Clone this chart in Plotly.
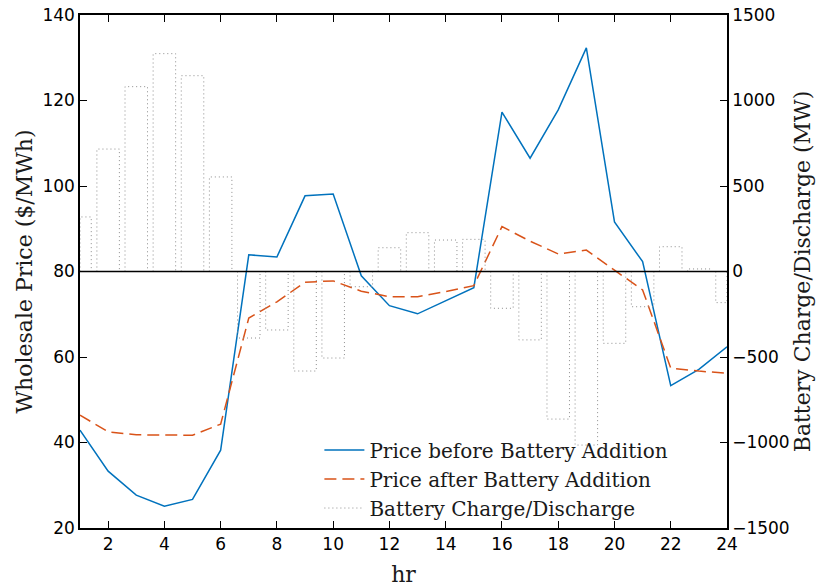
import plotly.graph_objects as go

hours = list(range(1, 25))
price_before = [42.9, 33.3, 27.7, 25.1, 26.7, 38.2, 83.9, 83.4, 97.7, 98.1, 79.0, 72.0,
                70.1, 73.2, 76.2, 117.3, 106.5, 117.8, 132.3, 91.6, 82.3, 53.3, 57.1, 62.4]
price_after = [46.4, 42.5, 41.8, 41.7, 41.7, 44.3, 69.1, 72.9, 77.5, 77.8, 75.4, 74.1,
               74.1, 75.3, 76.7, 90.5, 87.1, 84.1, 85.0, 80.3, 75.7, 57.4, 56.7, 56.2]
battery_mw = [319, 716, 1081, 1274, 1145, 553, -389, -342, -582, -506, -89, 139,
              227, 184, 188, -215, -400, -863, -1015, -420, -206, 145, 15, -182]
bar_width = 0.8

# outline path for dotted bars, built from the data
bx, by = [], []
for h, v in zip(hours, battery_mw):
    x0, x1 = max(h - bar_width / 2, 1), min(h + bar_width / 2, 24)
    bx += [x0, x0, x1, x1, None]
    by += [0, v, v, 0, None]

serif = "DejaVu Serif, Liberation Serif, serif"
sans = "DejaVu Sans, Verdana, sans-serif"
txt = "#1a1a1a"

fig = go.Figure()
fig.add_trace(go.Scatter(x=hours, y=price_before, mode="lines", name="Price before Battery Addition",
                         line=dict(color="#0072BD", width=1.5), yaxis="y"))
fig.add_trace(go.Scatter(x=hours, y=price_after, mode="lines", name="Price after Battery Addition",
                         line=dict(color="#D95319", width=1.5, dash="12px,6px"), yaxis="y"))
fig.add_trace(go.Scatter(x=bx, y=by, mode="lines", name="Battery Charge/Discharge",
                         line=dict(color="#8c8c8c", width=1, dash="1px,3px"), yaxis="y2",
                         connectgaps=False))

fig.add_shape(type="line", xref="paper", x0=0, x1=1, yref="y2", y0=0, y1=0,
              line=dict(color="black", width=1.5))

fig.update_layout(
    width=817, height=587,
    margin=dict(l=80, r=90, t=15, b=59),
    plot_bgcolor="white", paper_bgcolor="white",
    showlegend=True,
    legend=dict(x=0.37, y=0.19, xanchor="left", yanchor="top", bgcolor="rgba(0,0,0,0)",
                font=dict(family=serif, size=20, color=txt), itemwidth=40,
                tracegroupgap=0),
    xaxis=dict(range=[1, 24], tickvals=list(range(2, 25, 2)), showline=True, linecolor="black",
               linewidth=1.5, mirror="ticks", ticks="inside", ticklen=7, tickcolor="black",
               showgrid=False, zeroline=False, automargin=False, ticklabeloverflow="allow",
               tickfont=dict(family=sans, size=17, color="black"),
               title=dict(text="hr", font=dict(family=serif, size=22, color=txt), standoff=14)),
    yaxis=dict(range=[20, 140], tickvals=list(range(20, 141, 20)), showline=True, linecolor="black",
               linewidth=1.5, ticks="inside", ticklen=7, tickcolor="black", showgrid=False,
               zeroline=False, automargin=False, ticklabeloverflow="allow",
               tickfont=dict(family=sans, size=17, color="black"),
               title=dict(text="Wholesale Price ($/MWh)", font=dict(family=serif, size=22, color=txt),
                          standoff=4)),
    yaxis2=dict(range=[-1500, 1500], tickvals=list(range(-1500, 1501, 500)), overlaying="y",
                side="right", showline=True, linecolor="black", linewidth=1.5, ticks="inside",
                ticklen=7, tickcolor="black", showgrid=False, zeroline=False, automargin=False,
                ticklabeloverflow="allow",
                tickfont=dict(family=sans, size=17, color="black"),
                title=dict(text="Battery Charge/Discharge (MW)",
                           font=dict(family=serif, size=22, color=txt), standoff=6)),
)

fig.write_html("out.html", config={"displayModeBar": False},
               post_script="document.body.style.margin='0';")
